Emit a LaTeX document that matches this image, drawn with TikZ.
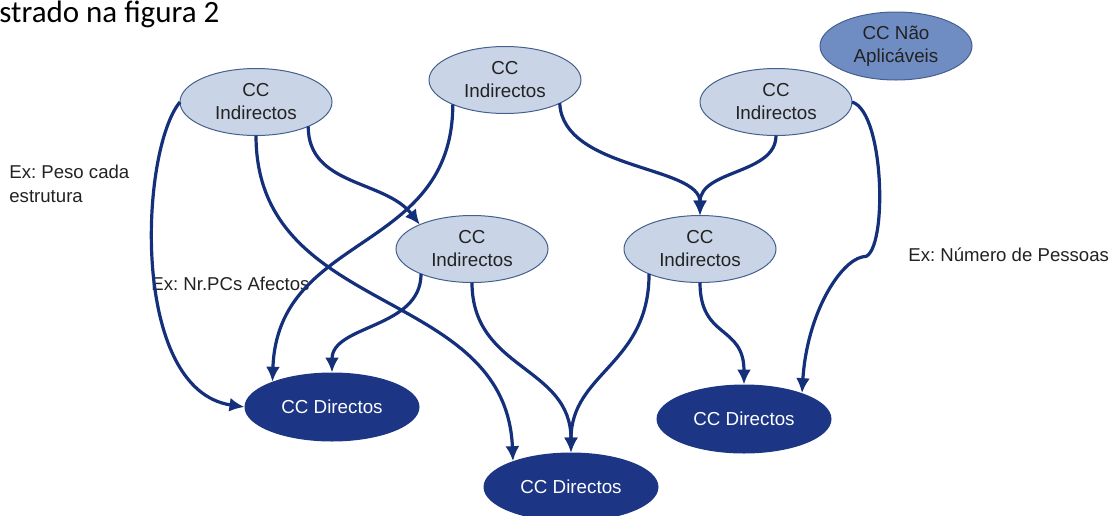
\documentclass[tikz,border=0pt]{standalone}
\usepackage{fontspec}
\setmainfont{Liberation Sans}
\newfontfamily\titlefont{Carlito}
\usepackage{tikz}
\usetikzlibrary{shapes,arrows.meta}
\definecolor{cclight}{HTML}{CAD4E7}
\definecolor{ccborder}{HTML}{45608E}
\definecolor{ccdark}{HTML}{1C3584}
\definecolor{ccmid}{HTML}{6F8DC3}
\definecolor{ccline}{HTML}{14307B}
\definecolor{cctext}{HTML}{222222}
\frenchspacing

\begin{document}
\begin{tikzpicture}[x=0.5pt,y=-0.5pt]
\tikzstyle{indirecto} = [ellipse, draw=ccborder, line width=0.5pt, fill=cclight, text=cctext, align=center, minimum width=76pt, minimum height=33.5pt, inner sep=0pt, outer sep=0pt, font=\fontsize{9.4}{11.5}\selectfont]
\tikzstyle{naoaplic} = [indirecto, fill=ccmid, minimum height=34pt]
\tikzstyle{directo} = [ellipse, fill=ccdark, text=white, minimum width=87.5pt, minimum height=34.5pt, inner sep=0pt, outer sep=0pt, font=\fontsize{9.4}{11.5}\selectfont]
\tikzstyle{nota} = [align=left, inner sep=0pt, text=cctext, font=\fontsize{9.3}{12}\selectfont]
\tikzstyle{liga} = [draw=ccline, line width=1.6pt, -{Latex[length=7.5pt,width=7pt]}]
\useasboundingbox (0,0) rectangle (1110,515);

\node[anchor=base west, inner sep=0pt, text=black, font=\titlefont\fontsize{15.5}{18}\selectfont] (titulo) at (-1,22) {strado na figura 2};

% centros de custo
\node[indirecto] (ind1) at (256,102) {CC\\Indirectos};
\node[indirecto] (ind2) at (505,80) {CC\\Indirectos};
\node[indirecto] (ind3) at (776,102) {CC\\Indirectos};
\node[indirecto] (ind4) at (472,249) {CC\\Indirectos};
\node[indirecto] (ind5) at (700,249) {CC\\Indirectos};
\node[naoaplic] (naoap) at (896,46) {CC N\~ao\\Aplic\'aveis};
\node[directo] (dir1) at (332,407) {CC Directos};
\node[directo] (dir2) at (571,487) {CC Directos};
\node[directo] (dir3) at (744,419) {CC Directos};
\coordinate (kink) at (862,257);

% notas
\node[nota, anchor=west] (peso) at (9,184) {Ex: Peso cada\\estrutura};
\node[nota, anchor=west] (pcs) at (151,284) {Ex: Nr.PCs Afectos};
\node[nota, anchor=west] (pessoas) at (908,255) {Ex: N\'umero de Pessoas};

% ligacoes
\draw[liga] (ind1.west) .. controls +(-40,48) and +(-115,-17) .. (dir1.west);
\draw[liga] (ind1.south) .. controls +(0,183) and +(-7,-176) .. (dir2.156);
\draw[liga] (ind1.-25) .. controls +(0,60) and +(-35,-45) .. (ind4.155);
\draw[liga] (ind2.205) .. controls +(0,150) and +(5,-150) .. (dir1.157);
\draw[liga] (ind2.-23) .. controls +(3,67) and +(0,-50) .. (ind5.north);
\draw[liga] (ind3.south) .. controls +(0,39) and +(0,-46) .. (ind5.north);
\draw[liga] (ind3.east) .. controls +(34,10) and +(26,5) .. (kink)
  .. controls +(-22,5) and +(5,-80) .. (dir3.24);
\draw[liga] (ind4.206) .. controls +(0,55) and +(0,-48) .. (dir1.north);
\draw[liga] (ind4.south) .. controls +(0,88) and +(0,-87) .. (dir2.north);
\draw[liga] (ind5.206) .. controls +(0,91) and +(0,-80) .. (dir2.north);
\draw[liga] (ind5.south) .. controls +(0,57) and +(0,-60) .. (dir3.north);
\end{tikzpicture}
\end{document}
